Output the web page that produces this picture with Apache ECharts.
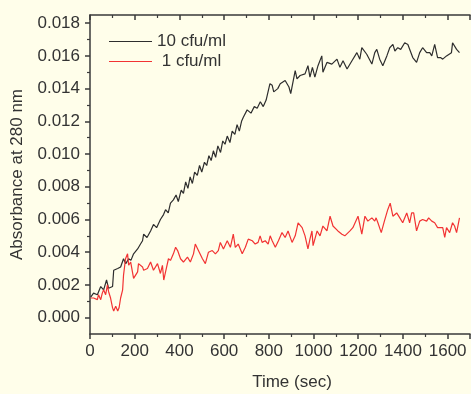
<!DOCTYPE html>
<html>
<head>
<meta charset="utf-8">
<script src="https://cdn.jsdelivr.net/npm/echarts@6/dist/echarts.min.js"></script>
<style>
  html, body { margin: 0; padding: 0; background: #fffeea; }
  #chart { width: 471px; height: 394px; }
</style>
</head>
<body>
<div id="chart"></div>
<script>
// 10 cfu/ml trace (time in sec, absorbance)
const time10 = [3, 16, 33, 48, 61, 74, 83, 101, 106, 124, 137, 150, 160, 173, 183, 195, 213, 226, 235, 240,
  255, 271, 284, 298, 315, 329, 338, 350, 360, 373, 385, 395, 408, 418, 428, 438, 448, 458, 468, 480,
  490, 500, 512, 522, 532, 542, 552, 562, 572, 584, 594, 604, 614, 626, 636, 648, 658, 668, 678, 686,
  703, 720, 735, 748, 762, 775, 788, 805, 815, 822, 840, 851, 873, 890, 898, 918, 926, 940, 962, 975,
  984, 995, 1006, 1020, 1037, 1042, 1060, 1082, 1105, 1118, 1132, 1150, 1172, 1194, 1207, 1216, 1238, 1261, 1274, 1283,
  1296, 1310, 1328, 1341, 1355, 1364, 1377, 1390, 1408, 1422, 1430, 1444, 1452, 1461, 1475, 1488, 1506, 1520, 1529, 1542,
  1555, 1568, 1578, 1595, 1617, 1622, 1640, 1653];
const abs10 = [0.00126, 0.0015, 0.0014, 0.0019, 0.0017, 0.0023, 0.0018, 0.0019, 0.0029, 0.0030, 0.0031, 0.0036, 0.0033, 0.0036, 0.0035, 0.0039, 0.0042, 0.0045, 0.0047, 0.0051,
  0.0049, 0.0053, 0.0057, 0.0055, 0.0060, 0.0063, 0.0066, 0.0064, 0.0070, 0.0072, 0.0075, 0.0071, 0.0078, 0.0076, 0.0083, 0.0079, 0.0086, 0.0082, 0.0089, 0.0087,
  0.0093, 0.0089, 0.0095, 0.0093, 0.0099, 0.0096, 0.0102, 0.0098, 0.0105, 0.0101, 0.0108, 0.0106, 0.0111, 0.0107, 0.0114, 0.0112, 0.0118, 0.0114, 0.0120, 0.01225,
  0.0127, 0.0125, 0.0129, 0.0128, 0.0132, 0.0129, 0.0133, 0.0143, 0.0142, 0.0138, 0.0140, 0.0143, 0.0145, 0.0141, 0.0137, 0.0151, 0.0146, 0.0148, 0.0149, 0.0154,
  0.0147, 0.0153, 0.0147, 0.0154, 0.0160, 0.0150, 0.0156, 0.0155, 0.0158, 0.0153, 0.0157, 0.0152, 0.0157, 0.0162, 0.0158, 0.0165, 0.0161, 0.0155, 0.0162, 0.0164,
  0.0158, 0.0154, 0.0160, 0.0165, 0.0167, 0.0163, 0.0165, 0.0164, 0.0168, 0.0167, 0.0168, 0.0159, 0.0160, 0.0156, 0.0162, 0.0165, 0.0162, 0.0162, 0.0160, 0.0167,
  0.0159, 0.0159, 0.0158, 0.0160, 0.0162, 0.0168, 0.0164, 0.0162];

// 1 cfu/ml trace
const time1 = [3, 16, 33, 38, 48, 55, 61, 70, 78, 83, 92, 101, 106, 115, 124, 130, 137, 146, 150, 159,
  168, 173, 182, 188, 195, 213, 217, 235, 240, 257, 271, 284, 302, 315, 324, 330, 338, 351, 360, 373,
  383, 392, 405, 418, 436, 449, 463, 471, 485, 503, 516, 530, 547, 561, 574, 583, 597, 614, 628, 641,
  650, 663, 681, 695, 708, 726, 739, 752, 761, 770, 784, 797, 806, 815, 829, 843, 859, 873, 886, 904,
  918, 931, 949, 962, 975, 984, 993, 998, 1016, 1029, 1042, 1060, 1074, 1087, 1109, 1127, 1140, 1163, 1176, 1199,
  1216, 1230, 1243, 1261, 1274, 1280, 1288, 1303, 1317, 1332, 1343, 1355, 1372, 1386, 1399, 1417, 1430, 1439, 1448, 1461,
  1475, 1488, 1506, 1515, 1529, 1542, 1555, 1564, 1578, 1587, 1595, 1609, 1622, 1631, 1640, 1653];
const abs1 = [0.0012, 0.0012, 0.0011, 0.0014, 0.0011, 0.0015, 0.0017, 0.0014, 0.0020, 0.0016, 0.0012, 0.0006, 0.0004, 0.0007, 0.0004, 0.0006, 0.0012, 0.0017, 0.0026, 0.0036,
  0.0039, 0.0032, 0.0034, 0.0033, 0.0024, 0.0028, 0.0033, 0.0031, 0.0029, 0.0030, 0.0034, 0.0029, 0.0033, 0.0027, 0.0032, 0.0023, 0.0028, 0.0036, 0.0035, 0.0039,
  0.0043, 0.0041, 0.0036, 0.0034, 0.0037, 0.0034, 0.0039, 0.0045, 0.0041, 0.0036, 0.0033, 0.0040, 0.0041, 0.0039, 0.0041, 0.0046, 0.0042, 0.0047, 0.0043, 0.0051,
  0.0043, 0.0045, 0.0039, 0.0043, 0.0048, 0.0047, 0.0045, 0.0046, 0.0050, 0.0046, 0.0047, 0.0045, 0.0050, 0.0047, 0.0043, 0.0047, 0.0052, 0.0049, 0.0053, 0.0046,
  0.0050, 0.0058, 0.0055, 0.0050, 0.0042, 0.0048, 0.0053, 0.0044, 0.0053, 0.0050, 0.0056, 0.0053, 0.0062, 0.0056, 0.0053, 0.0051, 0.0050, 0.0053, 0.0055, 0.0062,
  0.0051, 0.0062, 0.0059, 0.0061, 0.0059, 0.0061, 0.0058, 0.0052, 0.0059, 0.0066, 0.0070, 0.0062, 0.0064, 0.0061, 0.0058, 0.0064, 0.0058, 0.0064, 0.0064, 0.0053,
  0.0059, 0.0060, 0.0059, 0.0061, 0.0059, 0.0058, 0.0055, 0.0055, 0.0055, 0.0049, 0.0055, 0.0052, 0.0058, 0.0056, 0.0052, 0.0061];

const yMajor = [0, 0.002, 0.004, 0.006, 0.008, 0.010, 0.012, 0.014, 0.016, 0.018];
const yMinor = [0.001, 0.003, 0.005, 0.007, 0.009, 0.011, 0.013, 0.015, 0.017];

const pairs = (xs, ys) => xs.map((x, i) => [x, ys[i]]);

const axisColor = '#3a3a3a';
const font = { fontFamily: 'Liberation Sans, Arial, sans-serif', fontSize: 17, color: '#333' };

const chart = echarts.init(document.getElementById('chart'), null, { renderer: 'canvas' });

const xBase = {
  type: 'value',
  min: 0,
  max: 1700,
  interval: 200,
  splitLine: { show: false },
  axisLine: { show: true, onZero: false, lineStyle: { color: axisColor, width: 1.5 } },
  axisTick: { length: 5, lineStyle: { color: axisColor, width: 1.5 } },
  minorTick: { show: true, splitNumber: 2, length: 3, lineStyle: { color: axisColor, width: 1.2 } }
};

const option = {
  backgroundColor: '#fffeea',
  animation: false,
  grid: { left: 90, right: 1, top: 15, bottom: 60, containLabel: false, outerBoundsMode: 'none' },
  legend: {
    orient: 'vertical',
    left: 104,
    top: 28,
    icon: 'rect',
    itemWidth: 43,
    itemHeight: 1.2,
    itemGap: 3,
    textStyle: font,
    formatter: name => (name === '1 cfu/ml' ? ' ' + name : name),
    data: ['10 cfu/ml', '1 cfu/ml']
  },
  xAxis: [
    Object.assign({}, xBase, {
      position: 'bottom',
      name: 'Time (sec)',
      nameLocation: 'middle',
      nameGap: 40,
      nameTextStyle: Object.assign({}, font, { padding: [0, 0, 0, 24] }),
      axisLabel: Object.assign({ margin: 9, formatter: v => String(v) }, font)
    }),
    Object.assign({}, xBase, {
      position: 'top',
      axisLabel: { show: false },
      axisTick: { inside: true, length: 5, lineStyle: { color: axisColor, width: 1.5 } }
    })
  ],
  yAxis: [
    {
      type: 'value',
      min: -0.001,
      max: 0.0185,
      position: 'left',
      splitLine: { show: false },
      name: 'Absorbance at 280 nm',
      nameLocation: 'middle',
      nameRotate: 90,
      nameGap: 64,
      nameTextStyle: font,
      axisLine: { show: true, onZero: false, lineStyle: { color: axisColor, width: 1.5 } },
      axisTick: { customValues: yMajor, length: 5, lineStyle: { color: axisColor, width: 1.5 } },
      axisLabel: Object.assign({ customValues: yMajor, margin: 10, formatter: v => v.toFixed(3) }, font)
    },
    {
      type: 'value',
      min: -0.001,
      max: 0.0185,
      position: 'left',
      splitLine: { show: false },
      axisLine: { show: false },
      axisTick: { customValues: yMinor, length: 3, lineStyle: { color: axisColor, width: 1.2 } },
      axisLabel: { show: false }
    }
  ],
  series: [
    {
      name: '10 cfu/ml',
      type: 'line',
      symbol: 'none',
      xAxisIndex: 0,
      yAxisIndex: 0,
      lineStyle: { color: '#2e2e2e', width: 1.2 },
      itemStyle: { color: '#2e2e2e' },
      data: pairs(time10, abs10)
    },
    {
      name: '1 cfu/ml',
      type: 'line',
      symbol: 'none',
      xAxisIndex: 0,
      yAxisIndex: 0,
      lineStyle: { color: '#f23333', width: 1.2 },
      itemStyle: { color: '#f23333' },
      data: pairs(time1, abs1)
    }
  ]
};

chart.setOption(option);
</script>
</body>
</html>
